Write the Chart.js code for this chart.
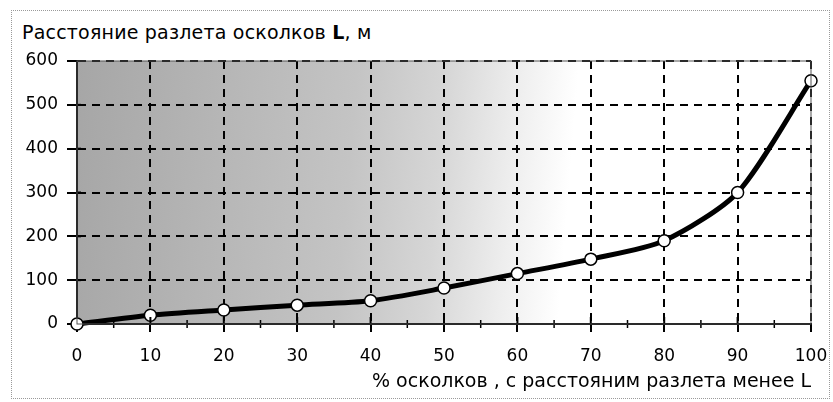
<!DOCTYPE html>
<html>
<head>
<meta charset="utf-8">
<script src="https://cdn.jsdelivr.net/npm/chart.js@4"></script>
<style>
  html, body { margin: 0; padding: 0; background: #fff; }
  #wrap { position: relative; width: 833px; height: 402px; overflow: hidden; }
  #frame { position: absolute; left: 11px; top: 10px; width: 819px; height: 389px; border: 1px dotted #9a9a9a; box-sizing: border-box; }
  #title { position: absolute; left: 22px; top: 20px; font-family: "DejaVu Sans", sans-serif; font-size: 19px; line-height: 24px; letter-spacing: 0.2px; color: #000; white-space: nowrap; }
  canvas { position: absolute; left: 0; top: 0; }
</style>
</head>
<body>
<div id="wrap">
  <div id="frame"></div>
  <div id="title">Расстояние разлета осколков <b>L</b>, м</div>
  <canvas id="c" width="833" height="402"></canvas>
</div>
<script>
// Data
const percents = [0, 10, 20, 30, 40, 50, 60, 70, 80, 90, 100];
const distances = [0, 20, 32, 43, 53, 82, 115, 148, 190, 300, 555];
const xTitle = "% осколков , с расстояним разлета менее L";
const yMax = 600;
const yStep = 100;
const xMax = 100;
const xStep = 10;

const FONT = "'DejaVu Sans', sans-serif";

const bgPlugin = {
  id: 'bg',
  beforeDraw(chart) {
    const { ctx, chartArea: a } = chart;
    ctx.save();
    const g = ctx.createLinearGradient(a.left, a.top, a.right, a.top + 60);
    g.addColorStop(0, '#a6a6a6');
    g.addColorStop(0.2, '#b6b6b6');
    g.addColorStop(0.38, '#c4c4c4');
    g.addColorStop(0.5, '#d6d6d6');
    g.addColorStop(0.6, '#eeeeee');
    g.addColorStop(0.68, '#ffffff');
    g.addColorStop(1, '#ffffff');
    ctx.fillStyle = g;
    ctx.fillRect(a.left, a.top, a.right - a.left, a.bottom - a.top);
    ctx.restore();
  },
  afterDatasetsDraw(chart) {
    const { ctx, chartArea: a, scales } = chart;
    ctx.save();
    ctx.strokeStyle = '#000';
    ctx.lineWidth = 1.5;
    for (let v = 5; v < xMax; v += xStep) {
      const px = scales.x.getPixelForValue(v);
      ctx.beginPath(); ctx.moveTo(px, a.bottom - 4); ctx.lineTo(px, a.bottom + 4); ctx.stroke();
    }
    ctx.lineWidth = 2;
    for (let v = xStep; v < xMax; v += xStep) {
      const px = scales.x.getPixelForValue(v);
      ctx.beginPath(); ctx.moveTo(px, a.bottom - 7); ctx.lineTo(px, a.bottom); ctx.stroke();
    }
    for (let v = yStep; v < yMax; v += yStep) {
      const py = scales.y.getPixelForValue(v);
      ctx.beginPath(); ctx.moveTo(a.left, py); ctx.lineTo(a.left + 4, py); ctx.stroke();
    }
    ctx.lineWidth = 1;
    ctx.strokeStyle = '#555';
    ctx.strokeRect(a.left, a.top, a.right - a.left, a.bottom - a.top);
    ctx.restore();
  }
};

new Chart(document.getElementById('c'), {
  type: 'line',
  data: {
    datasets: [{
      data: percents.map((p, i) => ({ x: p, y: distances[i] })),
      borderColor: '#000',
      borderWidth: 5,
      tension: 0.25,
      pointRadius: 6,
      pointBackgroundColor: '#fff',
      pointBorderColor: '#000',
      pointBorderWidth: 1.5,
      clip: false
    }]
  },
  options: {
    responsive: false,
    animation: false,
    layout: { padding: { left: 0, top: 61, right: 22, bottom: 0 } },
    plugins: { legend: { display: false }, tooltip: { enabled: false } },
    scales: {
      x: {
        type: 'linear', min: 0, max: xMax,
        afterFit(s) { s.height = 78; s.paddingRight = 0; s.paddingLeft = 0; },
        ticks: { stepSize: xStep, color: '#000', font: { family: FONT, size: 17 }, padding: 14, maxRotation: 0 },
        grid: { color: '#000', lineWidth: 2, tickLength: 8, tickBorderDash: [], tickColor: '#000', tickWidth: 2 },
        border: { display: true, color: '#000', width: 2, dash: [8, 6] },
        title: { display: true, text: xTitle, align: 'end', color: '#000', font: { family: FONT, size: 19 }, padding: { top: 0, bottom: 9 } }
      },
      y: {
        min: 0, max: yMax,
        afterFit(s) { s.width = 77; s.paddingTop = 0; s.paddingBottom = 0; },
        ticks: { stepSize: yStep, color: '#000', font: { family: FONT, size: 17 }, padding: 9 },
        grid: { color: '#000', lineWidth: 2, tickLength: 10, tickBorderDash: [], tickColor: '#000', tickWidth: 2 },
        border: { display: true, color: '#000', width: 2, dash: [8, 6] }
      }
    }
  },
  plugins: [bgPlugin]
});
</script>
</body>
</html>
